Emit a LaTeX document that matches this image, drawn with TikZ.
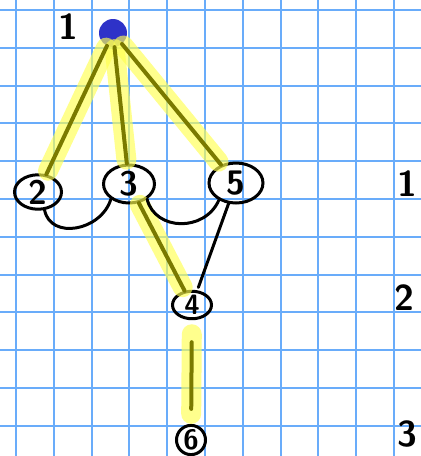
\documentclass[tikz,border=0pt]{standalone}
\usepackage{tikz}
\usetikzlibrary{shapes.geometric}
\definecolor{gridblue}{RGB}{105,172,250}
\definecolor{dotblue}{RGB}{46,50,200}
\definecolor{marker}{RGB}{255,255,80}
\definecolor{pen}{RGB}{122,122,0}
\tikzset{
  vert/.style={draw=black, ellipse, line width=3pt, inner sep=0pt,
               font=\fontsize{34}{34}\selectfont\sffamily\bfseries},
  glow/.style={draw=marker, line width=20pt, line cap=round, opacity=0.65},
  ink/.style={draw=pen, line width=4pt, line cap=round},
  link/.style={draw=black, line width=3pt, line cap=round},
  level/.style={font=\fontsize{36}{36}\selectfont\sffamily\bfseries},
  gridline/.style={draw=gridblue, line width=2pt},
}
\begin{document}
\begin{tikzpicture}[x=1pt, y=-1pt]
  \fill[white] (0,0) rectangle (421,456);
  \useasboundingbox (0,0) rectangle (421,456);
  % squared paper
  \foreach \i in {0,...,10}
    \draw[gridline] ({16+37.8*\i},0) -- ({16+37.8*\i},456);
  \foreach \j in {0,...,11}
    \draw[gridline] (0,{10+37.8*\j}) -- (421,{10+37.8*\j});

  % vertices
  \node[circle, fill=dotblue, minimum size=28pt, inner sep=0pt] (n1) at (113,33) {};
  \node[level] (l1) at (68,27) {1};
  \node[vert, minimum width=47pt, minimum height=33pt] (n2) at (38,192)  {2};
  \node[vert, minimum width=51pt, minimum height=38pt] (n3) at (129,184) {3};
  \node[vert, minimum width=54pt, minimum height=40pt] (n5) at (236,183) {5};
  \node[vert, minimum width=39pt, minimum height=26pt, font=\fontsize{28}{28}\selectfont\sffamily\bfseries] (n4) at (192,305) {4};
  \node[vert, minimum width=29pt, minimum height=25pt, font=\fontsize{28}{28}\selectfont\sffamily\bfseries] (n6) at (191,440) {6};

  % levels
  \node[level] (d1) at (407,184) {1};
  \node[level] (d2) at (404,298) {2};
  \node[level] (d3) at (407,434) {3};

  % tree edges (highlighted)
  \foreach \a/\b in {n1/n2, n1/n3, n1/n5, n3/n4}
    \draw[glow, shorten <=2pt, shorten >=4pt] (\a) -- (\b);
  \draw[glow, shorten <=14pt, shorten >=10pt] (n4) -- (n6);
  \foreach \a/\b in {n1/n2, n1/n3, n1/n5, n3/n4}
    \draw[ink] (\a) -- (\b);
  \draw[ink, shorten <=22pt, shorten >=15pt] (n4) -- (n6);

  % other edges
  \draw[link] (n2.-70) .. controls +(6,30) and +(-10,32) .. (n3.-140);
  \draw[link] (n3.-40) .. controls +(8,32) and +(-14,32) .. (n5.-135);
  \draw[link, shorten >=3pt] (n5) -- (n4);
\end{tikzpicture}
\end{document}
